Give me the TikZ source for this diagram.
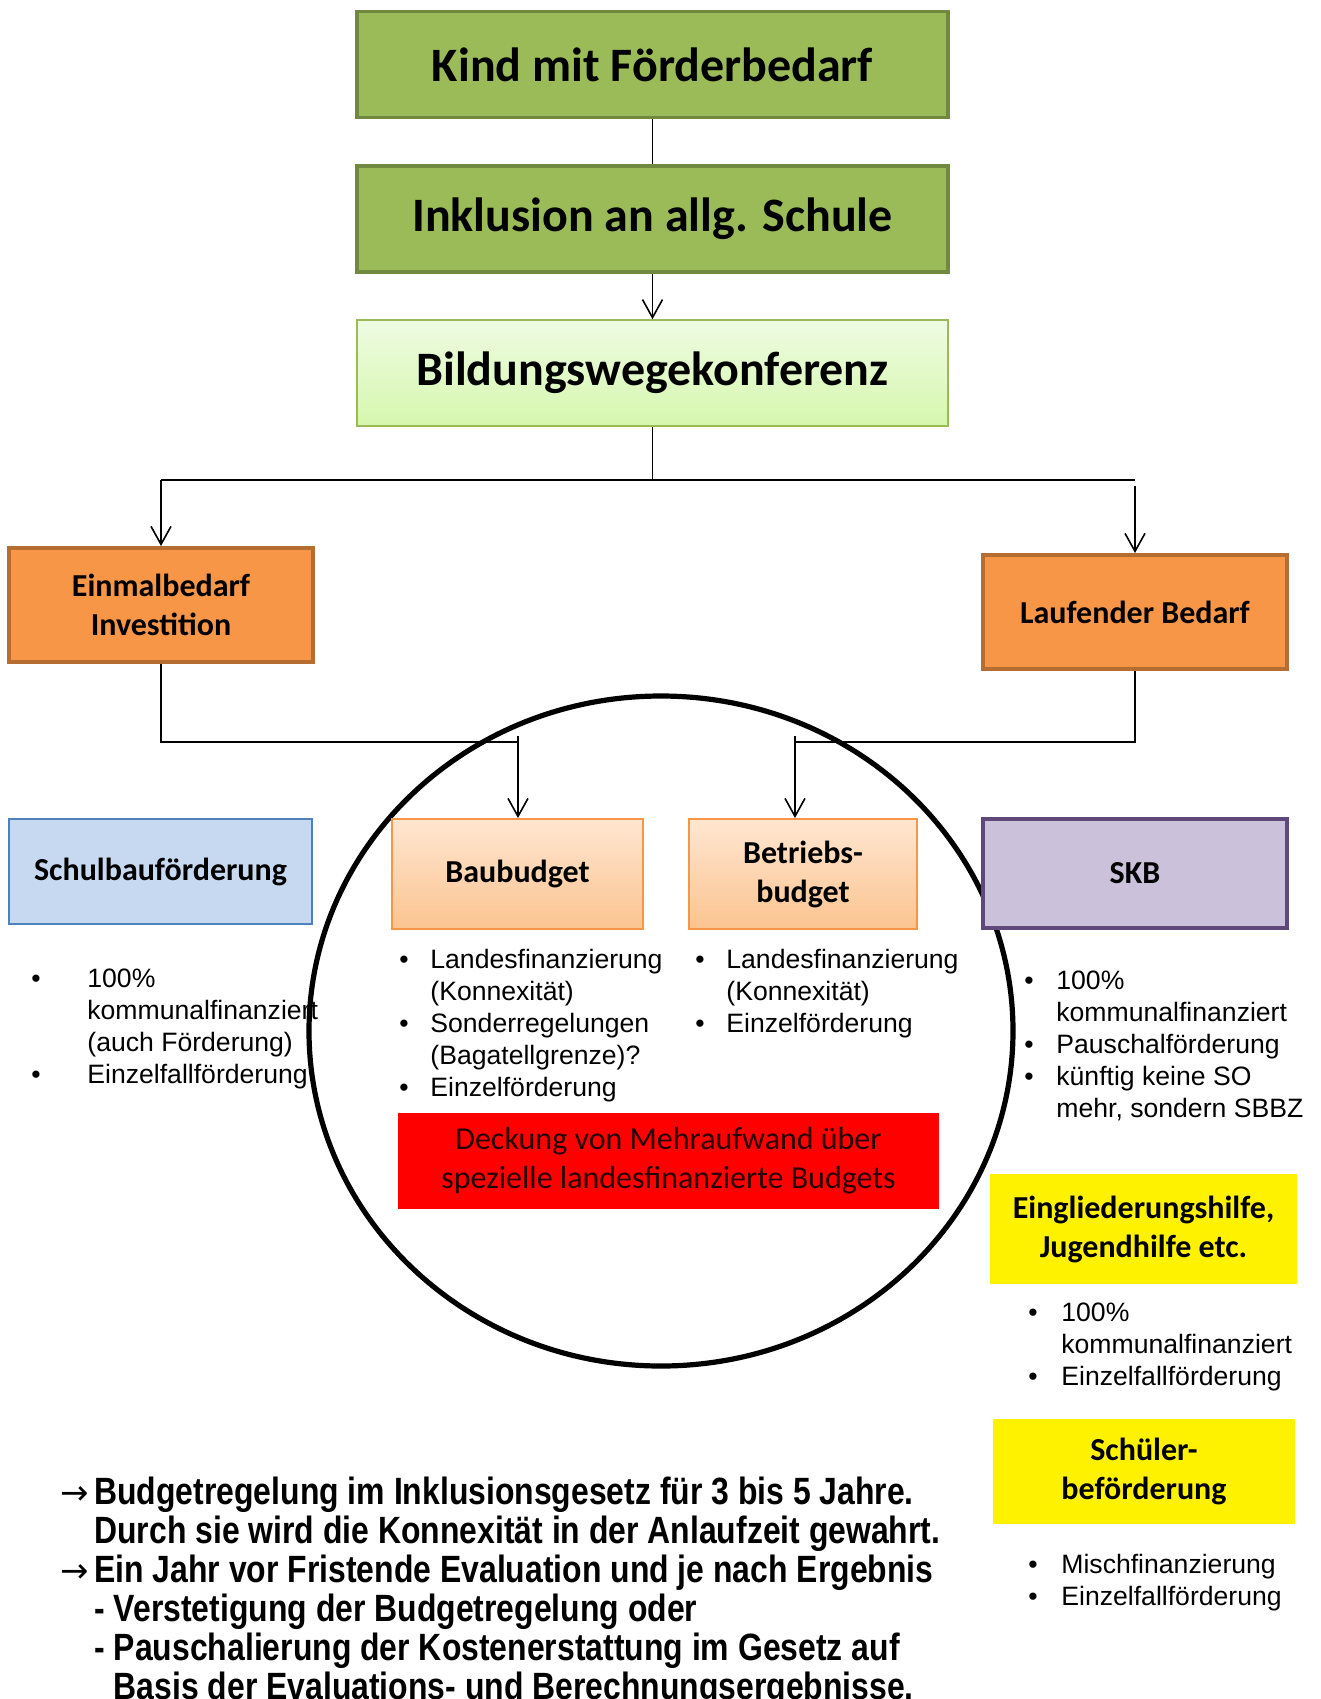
\documentclass[tikz,border=0pt]{standalone}
\usepackage{fontspec}
\setmainfont{Carlito}
\newfontfamily\listfont{Liberation Sans}
\newfontfamily\notefont[FakeStretch=0.84]{Liberation Sans}
\newfontfamily\symfont{DejaVu Sans}
\usetikzlibrary{arrows.meta}

\definecolor{olivefill}{HTML}{9BBB59}
\definecolor{olivedraw}{HTML}{71893F}
\definecolor{greentop}{HTML}{EEFBE2}
\definecolor{greenbot}{HTML}{D6F7AE}
\definecolor{orangefill}{HTML}{F79646}
\definecolor{orangedraw}{HTML}{B66D31}
\definecolor{peachtop}{HTML}{FFE6D0}
\definecolor{peachbot}{HTML}{FBC490}
\definecolor{bluefill}{HTML}{C6D9F1}
\definecolor{bluedraw}{HTML}{4F81BD}
\definecolor{lilacfill}{HTML}{CCC1DA}
\definecolor{lilacdraw}{HTML}{5F497A}

\tikzset{
  box/.style={rectangle, inner sep=2pt, align=center,
    font=\bfseries\fontsize{16}{19.5}\selectfont},
  topbox/.style={box, draw=olivedraw, fill=olivefill, line width=1.8pt,
    minimum width=295.5pt, minimum height=53pt,
    font=\bfseries\fontsize{24}{28}\selectfont},
  bwkbox/.style={topbox, draw=olivefill, line width=0.8pt,
    top color=greentop, bottom color=greenbot},
  needbox/.style={box, draw=orangedraw, fill=orangefill, line width=2pt,
    minimum width=152pt, minimum height=57pt},
  budgetbox/.style={box, draw=orangefill, line width=1pt,
    top color=peachtop, bottom color=peachbot, minimum height=55pt},
  yellowbox/.style={box, fill=yellow, minimum width=152pt},
  lst/.style={anchor=base west, inner sep=0pt,
    font=\listfont\fontsize{13.3}{16}\selectfont},
  conn/.style={line width=0.8pt},
  arr/.style={conn, -{Straight Barb[length=9pt,width=10pt,line width=0.8pt]}},
}
\newcommand{\noteArrow}{{\symfont\mdseries\fontsize{17}{16}\selectfont →}}

\begin{document}
\begin{tikzpicture}[x=0.5pt, y=-0.5pt]
\useasboundingbox (0,0) rectangle (1321,1699);

% main chain
\node[topbox] (kind) at (652.5,64.5) {Kind mit Förderbedarf};
\node[topbox] (inkl) at (652.5,219) {Inklusion an allg. Schule};
\node[bwkbox] (bwk) at (652.5,373) {Bildungswegekonferenz};

\node[needbox] (einmal) at (161,605) {Einmalbedarf\\Investition};
\node[needbox] (laufend) at (1135,612) {Laufender Bedarf};

% budgets
\draw[line width=2.6pt] (661,1031) ellipse (352 and 335);
\node[box, draw=bluedraw, fill=bluefill, line width=1pt,
  minimum width=151.5pt, minimum height=52.5pt] (schulbau) at (160.5,871.5) {Schulbauförderung};
\node[budgetbox, minimum width=125.5pt] (baubudget) at (517.5,874) {Baubudget};
\node[budgetbox, minimum width=114pt] (betrieb) at (803,874) {Betriebs-\\budget};
\node[box, draw=lilacdraw, fill=lilacfill, line width=2pt,
  minimum width=152pt, minimum height=54.5pt] (skb) at (1135,873.5) {SKB};

\node[box, fill=red, minimum width=270.5pt, minimum height=48pt,
  font=\fontsize{16}{19.5}\selectfont, text=black!85!red] (deckung) at (668.5,1161)
  {Deckung von Mehraufwand über\\spezielle landesfinanzierte Budgets};

\node[yellowbox, minimum width=153.5pt, minimum height=55pt] (eingl) at (1143.5,1229)
  {Eingliederungshilfe,\\Jugendhilfe etc.};
\node[yellowbox, minimum width=151pt, minimum height=52.5pt] (schueler) at (1144,1471.5)
  {Schüler-\\beförderung};

% lists
\node[lst] (lschulbau) at (31,987) {\begin{tabular}[t]{@{}p{28pt}@{}l@{}}
\textbullet & 100\% \\ & kommunalfinanziert \\ & (auch Förderung) \\
\textbullet & Einzelfallförderung \end{tabular}};
\node[lst] (lbau) at (399,968) {\begin{tabular}[t]{@{}p{15.5pt}@{}l@{}}
\textbullet & Landesfinanzierung \\ & (Konnexität) \\
\textbullet & Sonderregelungen \\ & (Bagatellgrenze)? \\
\textbullet & Einzelförderung \end{tabular}};
\node[lst] (lbetrieb) at (695,968) {\begin{tabular}[t]{@{}p{15.5pt}@{}l@{}}
\textbullet & Landesfinanzierung \\ & (Konnexität) \\
\textbullet & Einzelförderung \end{tabular}};
\node[lst] (lskb) at (1024,989) {\begin{tabular}[t]{@{}p{16pt}@{}l@{}}
\textbullet & 100\% \\ & kommunalfinanziert \\
\textbullet & Pauschalförderung \\
\textbullet & künftig keine SO \\ & mehr, sondern SBBZ \end{tabular}};
\node[lst] (leingl) at (1028,1321) {\begin{tabular}[t]{@{}p{16.5pt}@{}l@{}}
\textbullet & 100\% \\ & kommunalfinanziert \\
\textbullet & Einzelfallförderung \end{tabular}};
\node[lst] (lschueler) at (1028,1573) {\begin{tabular}[t]{@{}p{16.5pt}@{}l@{}}
\textbullet & Mischfinanzierung \\
\textbullet & Einzelfallförderung \end{tabular}};

% note at the bottom
\node[anchor=base west, inner sep=0pt,
  font=\notefont\bfseries\fontsize{19}{19.25}\selectfont] (note) at (60,1504)
  {\begin{tabular}[t]{@{}p{17pt}@{}l@{}}
  \noteArrow & Budgetregelung im Inklusionsgesetz für 3 bis 5 Jahre. \\
  & Durch sie wird die Konnexität in der Anlaufzeit gewahrt. \\
  \noteArrow & Ein Jahr vor Fristende Evaluation und je nach Ergebnis \\
  & - Verstetigung der Budgetregelung oder \\
  & - Pauschalierung der Kostenerstattung im Gesetz auf \\
  & \phantom{- }Basis der Evaluations- und Berechnungsergebnisse.
  \end{tabular}};

% connectors
\coordinate (split) at (652.5,480);
\coordinate (baujoin) at (518,742);
\coordinate (betriebjoin) at (795,742);
\draw[conn] (kind) -- (inkl);
\draw[arr] (inkl) -- (bwk);
\draw[conn] (bwk) -- (split);
\draw[conn] (einmal |- split) -- (laufend |- split);
\draw[arr] (einmal |- split) -- (einmal);
\draw[arr] ([yshift=-3pt]laufend |- split) -- (laufend);
\draw[conn] (einmal) |- (baujoin);
\draw[arr] ([yshift=3pt]baujoin) -- (baujoin |- baubudget.north);
\draw[conn] (laufend) |- (betriebjoin);
\draw[arr] ([yshift=3pt]betriebjoin) -- (betriebjoin |- betrieb.north);
\end{tikzpicture}
\end{document}
